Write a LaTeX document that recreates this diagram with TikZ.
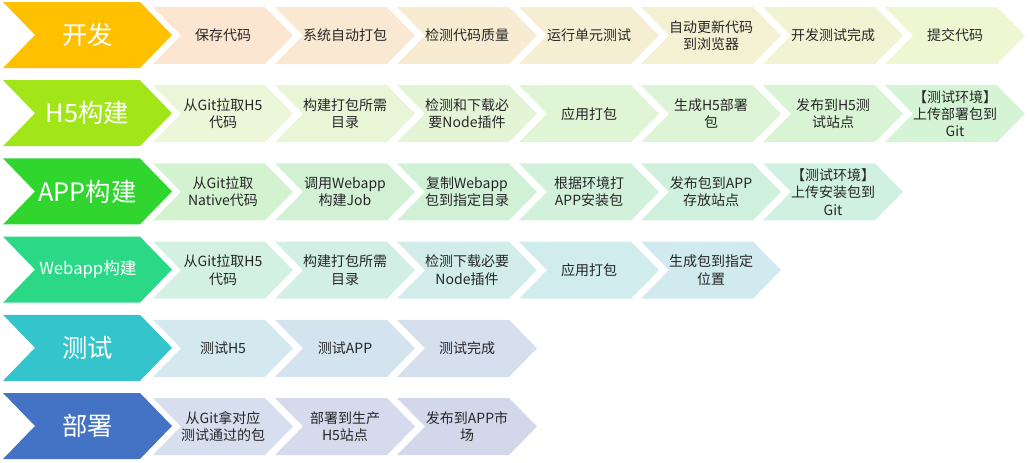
\documentclass[tikz,border=0pt]{standalone}
\usepackage{fontspec}
\setmainfont{Noto Sans CJK SC}
\usetikzlibrary{calc}
\definecolor{Ink}{HTML}{262626}
\definecolor{DevMain}{HTML}{FFC000}
\definecolor{DevA}{HTML}{FCE6D2}
\definecolor{DevB}{HTML}{EEF7D2}
\definecolor{HfiveMain}{HTML}{A2E61A}
\definecolor{HfiveA}{HTML}{ECF6D8}
\definecolor{HfiveB}{HTML}{D5F4D5}
\definecolor{AppMain}{HTML}{30D62E}
\definecolor{AppA}{HTML}{D2F2D0}
\definecolor{AppB}{HTML}{D0F0E2}
\definecolor{WebMain}{HTML}{2BD886}
\definecolor{WebA}{HTML}{D2F1E2}
\definecolor{WebB}{HTML}{D1EAF0}
\definecolor{TestMain}{HTML}{34C4CC}
\definecolor{TestA}{HTML}{D3E9EF}
\definecolor{TestB}{HTML}{D6DFEE}
\definecolor{DeployMain}{HTML}{4472C4}
\definecolor{DeployA}{HTML}{D7DEEE}
\definecolor{DeployB}{HTML}{D3D7EA}

\tikzset{
  phase/.style={text=white,font=\fontsize{19}{22}\selectfont,inner sep=0pt},
  task/.style={align=center,text=Ink,font=\fontsize{10.5}{13}\selectfont,inner sep=0pt},
}

% big chevron: top y, colour
\newcommand{\phasechev}[2]{%
  \fill[#2] (3,#1) -- (140,#1) -- (172,#1+33) -- (140,#1+66) -- (3,#1+66) -- (35,#1+33) -- cycle;}
% small chevron: left x, top y, colour
\newcommand{\stepchev}[3]{%
  \fill[#3] (#1,#2) -- ++(112,0) -- ++(28,28.5) -- ++(-28,28.5) -- ++(-112,0) -- ++(28,-28.5) -- cycle;}

\begin{document}
\begin{tikzpicture}[x=0.75pt,y=-0.75pt]
    \useasboundingbox (0,0) rectangle (1028,462);

    % 开发
    \def\T{2}
    \phasechev{\T}{DevMain}
    \node[phase] (dev) at (87.5,\T+33) {开发};
    \foreach \t [count=\i from 0] in {保存代码, 系统自动打包, 检测代码质量, 运行单元测试,
      {自动更新代码\\到浏览器}, 开发测试完成, 提交代码}{
      \pgfmathsetmacro\p{100-100*\i/6}
      \stepchev{153+122*\i}{\T+5}{DevA!\p!DevB}
      \node[task] (dev-\i) at (223+122*\i,\T+33.5) {\t};
    }

    % H5构建
    \def\T{80.2}
    \phasechev{\T}{HfiveMain}
    \node[phase] (hfive) at (87.5,\T+33) {H5构建};
    \foreach \t [count=\i from 0] in {{从Git拉取H5\\代码}, {构建打包所需\\目录},
      {检测和下载必\\要Node插件}, 应用打包, {生成H5部署\\包}, {发布到H5测\\试站点},
      {【测试环境】\\上传部署包到\\Git}}{
      \pgfmathsetmacro\p{100-100*\i/6}
      \stepchev{153+122*\i}{\T+5}{HfiveA!\p!HfiveB}
      \node[task] (hfive-\i) at (223+122*\i,\T+33.5) {\t};
    }

    % APP构建
    \def\T{158.4}
    \phasechev{\T}{AppMain}
    \node[phase] (app) at (87.5,\T+33) {APP构建};
    \foreach \t [count=\i from 0] in {{从Git拉取\\Native代码}, {调用Webapp\\构建Job},
      {复制Webapp\\包到指定目录}, {根据环境打\\APP安装包}, {发布包到APP\\存放站点},
      {【测试环境】\\上传安装包到\\Git}}{
      \pgfmathsetmacro\p{100-100*\i/5}
      \stepchev{153+122*\i}{\T+5}{AppA!\p!AppB}
      \node[task] (app-\i) at (223+122*\i,\T+33.5) {\t};
    }

    % Webapp构建
    \def\T{236.6}
    \phasechev{\T}{WebMain}
    \node[phase,font=\fontsize{12.5}{15}\selectfont] (webapp) at (88,\T+33) {Webapp构建};
    \foreach \t [count=\i from 0] in {{从Git拉取H5\\代码}, {构建打包所需\\目录},
      {检测下载必要\\Node插件}, 应用打包, {生成包到指定\\位置}}{
      \pgfmathsetmacro\p{100-100*\i/4}
      \stepchev{153+122*\i}{\T+5}{WebA!\p!WebB}
      \node[task] (webapp-\i) at (223+122*\i,\T+33.5) {\t};
    }

    % 测试
    \def\T{314.8}
    \phasechev{\T}{TestMain}
    \node[phase] (test) at (87.5,\T+33) {测试};
    \foreach \t [count=\i from 0] in {测试H5, 测试APP, 测试完成}{
      \pgfmathsetmacro\p{100-100*\i/2}
      \stepchev{153+122*\i}{\T+5}{TestA!\p!TestB}
      \node[task] (test-\i) at (223+122*\i,\T+33.5) {\t};
    }

    % 部署
    \def\T{393}
    \phasechev{\T}{DeployMain}
    \node[phase] (deploy) at (87.5,\T+33) {部署};
    \foreach \t [count=\i from 0] in {{从Git拿对应\\测试通过的包}, {部署到生产\\H5站点},
      {发布到APP市\\场}}{
      \pgfmathsetmacro\p{100-100*\i/2}
      \stepchev{153+122*\i}{\T+5}{DeployA!\p!DeployB}
      \node[task] (deploy-\i) at (223+122*\i,\T+33.5) {\t};
    }
  \end{tikzpicture}
\end{document}
